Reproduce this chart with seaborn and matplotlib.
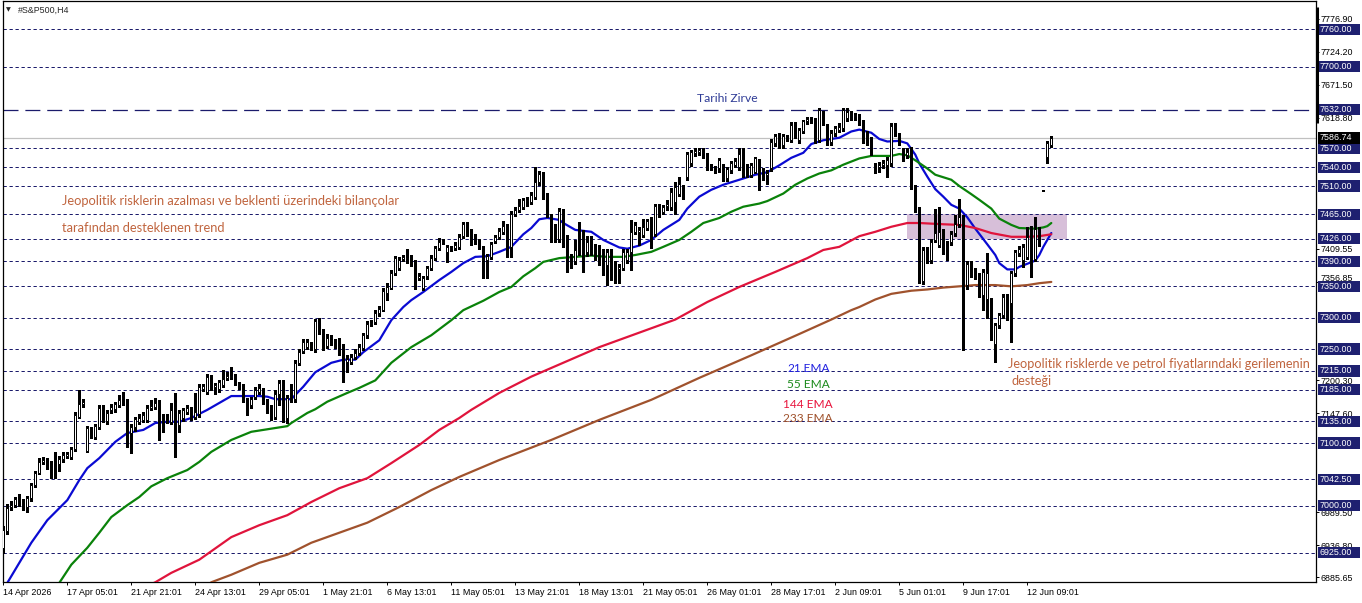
import matplotlib
matplotlib.use("Agg")
import numpy as np
import pandas as pd
import matplotlib.pyplot as plt
import matplotlib.transforms as mtransforms
from matplotlib.patches import Rectangle
import seaborn as sns

# ---------------------------------------------------------------------------
# Data (one entry per candle, 14 Apr 13:01 -> 15 Jun)
# ---------------------------------------------------------------------------

opens = [
    6932, 6960, 6998, 7001, 7010, 7006, 6998, 7012, 7033, 7053,
    7070, 7072, 7068, 7064, 7066, 7074, 7080, 7078, 7091, 7142,
    7163, 7088, 7122, 7110, 7126, 7156, 7135, 7152, 7154, 7161,
    7168, 7166, 7116, 7125, 7133, 7137, 7137, 7156, 7158, 7164,
    7142, 7141, 7134, 7153, 7129, 7140, 7150, 7155, 7142, 7146,
    7187, 7182, 7205, 7190, 7186, 7193, 7204, 7206, 7207, 7195,
    7191, 7169, 7161, 7173, 7181, 7186, 7166, 7156, 7142, 7178,
    7197, 7140, 7185, 7170, 7228, 7247, 7254, 7257, 7250, 7294,
    7278, 7255, 7268, 7262, 7264, 7254, 7230, 7230, 7238, 7243,
    7251, 7272, 7290, 7293, 7307, 7313, 7340, 7348, 7371, 7380,
    7393, 7393, 7395, 7388, 7364, 7347, 7366, 7379, 7395, 7411,
    7421, 7405, 7410, 7411, 7413, 7430, 7449, 7437, 7430, 7423,
    7411, 7392, 7397, 7423, 7428, 7437, 7446, 7413, 7466, 7472,
    7477, 7486, 7485, 7493, 7516, 7527, 7495, 7462, 7447, 7425,
    7470, 7427, 7397, 7390, 7437, 7435, 7405, 7425, 7413, 7397,
    7405, 7384, 7406, 7384, 7377, 7380, 7392, 7405, 7437, 7436,
    7432, 7443, 7456, 7434, 7479, 7469, 7478, 7477, 7484, 7498,
    7508, 7525, 7546, 7562, 7565, 7566, 7560, 7540, 7538, 7538,
    7541, 7522, 7535, 7543, 7541, 7561, 7541, 7528, 7533, 7549,
    7533, 7528, 7538, 7578, 7591, 7576, 7588, 7583, 7608, 7583,
    7598, 7613, 7617, 7615, 7583, 7626, 7605, 7580, 7594, 7600,
    7602, 7618, 7624, 7622, 7622, 7613, 7594, 7582, 7540, 7540,
    7544, 7543, 7546, 7605, 7590, 7565, 7560, 7567, 7509, 7472,
    7358, 7408, 7392, 7424, 7416, 7437, 7418, 7421, 7435, 7450,
    7461, 7352, 7386, 7376, 7368, 7336, 7330, 7328, 7258, 7288,
    7304, 7333, 7323, 7371, 7403, 7392, 7397, 7442, 7394, 7440,
    7503, 7557, 7576,
]
highs = [
    6968, 7003, 7008, 7014, 7018, 7010, 7016, 7036, 7056, 7076,
    7078, 7076, 7072, 7085, 7080, 7086, 7086, 7094, 7150, 7185,
    7170, 7128, 7126, 7130, 7160, 7160, 7152, 7162, 7166, 7176,
    7182, 7170, 7130, 7142, 7146, 7150, 7160, 7168, 7172, 7168,
    7146, 7146, 7164, 7180, 7152, 7156, 7160, 7158, 7180, 7194,
    7195, 7210, 7209, 7196, 7200, 7217, 7214, 7222, 7210, 7198,
    7194, 7172, 7174, 7190, 7194, 7188, 7170, 7160, 7185, 7200,
    7200, 7176, 7194, 7232, 7250, 7266, 7266, 7262, 7298, 7300,
    7282, 7274, 7272, 7266, 7268, 7258, 7240, 7242, 7250, 7258,
    7276, 7294, 7296, 7312, 7318, 7347, 7356, 7376, 7398, 7396,
    7400, 7409, 7400, 7392, 7371, 7367, 7383, 7400, 7415, 7427,
    7425, 7416, 7414, 7420, 7433, 7453, 7453, 7441, 7434, 7426,
    7414, 7402, 7421, 7432, 7443, 7455, 7450, 7470, 7476, 7489,
    7491, 7492, 7500, 7541, 7534, 7532, 7499, 7466, 7450, 7475,
    7474, 7432, 7402, 7424, 7453, 7440, 7430, 7430, 7418, 7416,
    7410, 7410, 7410, 7390, 7385, 7410, 7410, 7456, 7452, 7445,
    7458, 7458, 7460, 7482, 7482, 7480, 7488, 7507, 7516, 7525,
    7512, 7565, 7568, 7570, 7570, 7570, 7562, 7545, 7542, 7555,
    7545, 7541, 7550, 7555, 7570, 7570, 7545, 7547, 7557, 7553,
    7538, 7535, 7585, 7593, 7595, 7593, 7592, 7612, 7612, 7603,
    7616, 7620, 7620, 7618, 7634, 7630, 7609, 7600, 7606, 7610,
    7634, 7634, 7630, 7626, 7625, 7616, 7598, 7588, 7546, 7548,
    7552, 7556, 7610, 7611, 7594, 7570, 7570, 7572, 7512, 7476,
    7412, 7412, 7425, 7474, 7477, 7441, 7422, 7438, 7464, 7490,
    7464, 7390, 7390, 7380, 7372, 7377, 7403, 7332, 7292, 7308,
    7337, 7338, 7375, 7408, 7414, 7418, 7445, 7446, 7461, 7444,
    7504, 7582, 7590,
]
lows = [
    6925, 6955, 6994, 6998, 7000, 6994, 6990, 7008, 7030, 7050,
    7066, 7058, 7044, 7045, 7055, 7070, 7076, 7075, 7088, 7140,
    7158, 7085, 7108, 7106, 7122, 7134, 7131, 7148, 7150, 7158,
    7160, 7094, 7084, 7120, 7130, 7134, 7134, 7152, 7155, 7105,
    7118, 7132, 7130, 7078, 7118, 7136, 7146, 7137, 7138, 7142,
    7183, 7178, 7185, 7178, 7182, 7190, 7200, 7202, 7192, 7186,
    7166, 7145, 7156, 7170, 7178, 7162, 7148, 7137, 7138, 7160,
    7134, 7132, 7165, 7166, 7224, 7244, 7250, 7248, 7246, 7274,
    7248, 7252, 7256, 7252, 7240, 7198, 7214, 7226, 7234, 7240,
    7248, 7268, 7286, 7290, 7303, 7310, 7328, 7345, 7368, 7376,
    7390, 7388, 7383, 7345, 7360, 7344, 7362, 7376, 7392, 7408,
    7417, 7389, 7406, 7408, 7410, 7427, 7430, 7416, 7417, 7409,
    7363, 7363, 7394, 7419, 7425, 7434, 7397, 7397, 7462, 7468,
    7474, 7478, 7482, 7490, 7512, 7490, 7460, 7420, 7421, 7420,
    7412, 7373, 7380, 7385, 7400, 7373, 7398, 7400, 7392, 7384,
    7368, 7352, 7360, 7355, 7355, 7376, 7388, 7376, 7433, 7416,
    7428, 7440, 7411, 7430, 7460, 7465, 7472, 7472, 7466, 7494,
    7489, 7520, 7542, 7558, 7560, 7555, 7535, 7535, 7530, 7533,
    7518, 7518, 7530, 7540, 7536, 7524, 7525, 7524, 7530, 7503,
    7520, 7514, 7534, 7574, 7571, 7570, 7582, 7580, 7587, 7578,
    7594, 7609, 7610, 7578, 7580, 7608, 7575, 7575, 7590, 7596,
    7598, 7614, 7616, 7615, 7608, 7578, 7576, 7560, 7530, 7533,
    7538, 7525, 7542, 7590, 7575, 7550, 7555, 7505, 7468, 7355,
    7354, 7387, 7388, 7420, 7412, 7402, 7392, 7416, 7430, 7445,
    7248, 7345, 7365, 7362, 7333, 7312, 7300, 7265, 7230, 7284,
    7300, 7296, 7262, 7367, 7399, 7381, 7393, 7365, 7390, 7415,
    7502, 7546, 7572,
]
closes = [
    6962, 6997, 7002, 7010, 7004, 6998, 7012, 7033, 7052, 7070,
    7073, 7062, 7052, 7050, 7074, 7081, 7082, 7091, 7145, 7163,
    7165, 7124, 7113, 7127, 7156, 7142, 7148, 7158, 7162, 7169,
    7166, 7116, 7125, 7138, 7140, 7145, 7156, 7159, 7164, 7141,
    7139, 7138, 7153, 7113, 7148, 7153, 7156, 7141, 7150, 7190,
    7191, 7206, 7190, 7192, 7197, 7202, 7207, 7206, 7195, 7191,
    7169, 7161, 7170, 7185, 7188, 7166, 7156, 7141, 7178, 7196,
    7140, 7172, 7170, 7228, 7246, 7262, 7262, 7252, 7294, 7278,
    7252, 7268, 7262, 7258, 7254, 7233, 7234, 7238, 7244, 7254,
    7272, 7290, 7291, 7308, 7314, 7343, 7349, 7372, 7395, 7392,
    7396, 7395, 7387, 7364, 7367, 7363, 7379, 7395, 7411, 7421,
    7422, 7412, 7411, 7416, 7429, 7449, 7434, 7420, 7421, 7411,
    7392, 7398, 7417, 7428, 7439, 7446, 7413, 7466, 7472, 7478,
    7487, 7488, 7496, 7516, 7529, 7493, 7464, 7432, 7432, 7470,
    7416, 7384, 7384, 7408, 7405, 7406, 7421, 7410, 7397, 7388,
    7384, 7405, 7373, 7373, 7381, 7405, 7405, 7437, 7448, 7440,
    7445, 7454, 7434, 7478, 7464, 7477, 7482, 7500, 7509, 7514,
    7493, 7561, 7564, 7566, 7567, 7564, 7541, 7538, 7536, 7551,
    7522, 7537, 7546, 7550, 7561, 7528, 7528, 7543, 7555, 7528,
    7528, 7531, 7581, 7589, 7575, 7589, 7586, 7608, 7591, 7599,
    7613, 7617, 7615, 7583, 7631, 7613, 7578, 7594, 7602, 7604,
    7631, 7628, 7622, 7622, 7613, 7585, 7580, 7565, 7538, 7543,
    7546, 7551, 7605, 7594, 7578, 7560, 7565, 7509, 7472, 7365,
    7408, 7395, 7421, 7435, 7437, 7413, 7415, 7434, 7450, 7461,
    7352, 7386, 7373, 7368, 7336, 7373, 7372, 7270, 7288, 7304,
    7333, 7318, 7371, 7404, 7410, 7413, 7429, 7394, 7442, 7419,
    7503, 7578, 7587,
]

# EMA curves, read at the candle index where they were measured
ema21_idx = [0, 1, 7, 11, 16, 19, 21, 24, 28, 31, 35, 38, 41, 44, 47, 51, 54, 57, 60, 64,
             66, 68, 72, 75, 78, 82, 85, 88, 90, 94, 97, 100, 102, 105, 109, 112, 115, 118,
             121, 124, 127, 130, 132, 134, 136, 139, 140, 143, 147, 150, 154, 156, 159, 162,
             165, 169, 171, 174, 177, 180, 184, 188, 191, 194, 197, 200, 202, 205, 209, 212,
             214, 217, 219, 221, 224, 226, 228, 229, 231, 233, 235, 237, 239, 241, 243, 246,
             248, 249, 251, 253, 254, 256, 258, 259, 260, 262]
ema21_val = [6868, 6877, 6941, 6977, 7009, 7041, 7060, 7076, 7102, 7116, 7121, 7132, 7134,
             7134, 7140, 7153, 7164, 7175, 7175, 7175, 7174, 7170, 7170, 7190, 7213, 7228,
             7233, 7233, 7245, 7264, 7296, 7317, 7328, 7341, 7360, 7373, 7387, 7397, 7398,
             7405, 7413, 7433, 7443, 7457, 7459, 7456, 7451, 7440, 7437, 7424, 7412, 7410,
             7415, 7424, 7440, 7456, 7474, 7493, 7504, 7512, 7520, 7528, 7532, 7543, 7555,
             7563, 7577, 7583, 7587, 7597, 7600, 7595, 7585, 7581, 7582, 7578, 7560, 7546,
             7525, 7505, 7493, 7480, 7474, 7460, 7442, 7417, 7400, 7387, 7377, 7377, 7381,
             7386, 7391, 7400, 7413, 7435]

ema55_idx = [12, 14, 17, 21, 24, 27, 31, 34, 37, 41, 46, 49, 52, 57, 62, 66, 71, 72, 76, 78,
             81, 86, 89, 93, 97, 102, 107, 112, 115, 120, 124, 127, 130, 133, 135, 139, 143,
             147, 151, 155, 158, 162, 165, 169, 172, 175, 179, 182, 185, 189, 191, 195, 198,
             201, 204, 207, 210, 214, 217, 222, 224, 226, 228, 231, 233, 237, 239, 242, 244,
             247, 249, 252, 254, 258, 260, 261, 262]
ema55_val = [6862, 6877, 6906, 6933, 6957, 6982, 7001, 7014, 7031, 7044, 7057, 7070, 7086,
             7105, 7118, 7122, 7127, 7132, 7148, 7154, 7166, 7180, 7188, 7200, 7228, 7253,
             7272, 7296, 7312, 7327, 7341, 7349, 7366, 7379, 7389, 7395, 7397, 7399, 7397,
             7397, 7400, 7405, 7413, 7424, 7437, 7451, 7459, 7469, 7477, 7482, 7486, 7498,
             7512, 7522, 7530, 7535, 7544, 7554, 7558, 7558, 7561, 7559, 7551, 7538, 7528,
             7520, 7510, 7497, 7488, 7474, 7458, 7448, 7443, 7442, 7444, 7446, 7451]

ema144_idx = [36, 38, 42, 49, 57, 64, 71, 77, 84, 91, 97, 104, 109, 114, 117, 124, 132, 149,
              168, 176, 184, 193, 201, 205, 209, 214, 218, 222, 226, 229, 235, 239, 243, 247,
              252, 256, 259, 262]
ema144_val = [6872, 6878, 6893, 6914, 6950, 6969, 6985, 7006, 7028, 7044, 7068, 7097, 7121,
              7140, 7153, 7180, 7206, 7253, 7297, 7325, 7349, 7373, 7395, 7408, 7413, 7430,
              7437, 7445, 7451, 7451, 7449, 7448, 7443, 7435, 7429, 7429, 7430, 7433]

ema233_idx = [51, 52, 57, 64, 71, 77, 84, 91, 99, 107, 114, 124, 137, 149, 162, 174, 187, 199,
              207, 212, 214, 218, 222, 227, 231, 235, 239, 243, 248, 252, 256, 259, 262]
ema233_val = [6872, 6878, 6890, 6909, 6922, 6941, 6957, 6973, 6998, 7025, 7046, 7073, 7105,
              7137, 7169, 7204, 7240, 7274, 7297, 7312, 7317, 7329, 7338, 7343, 7345, 7348,
              7350, 7352, 7352, 7350, 7352, 7355, 7357]

# Horizontal levels drawn on the chart
levels = [7760, 7700, 7570, 7540, 7510, 7465, 7426, 7390, 7350, 7300, 7250, 7215, 7185,
          7135, 7100, 7042.5, 7000, 6925]
ath_level = 7632
last_price = 7586.74
zone_lo, zone_hi = 7425, 7466
zone_start, zone_end = 225.9, 265.9

# price-scale labels that are not covered by a level box
scale_ticks = [7776.90, 7724.20, 7671.50, 7618.80, 7409.55, 7356.85,
               7200.30, 7147.60, 6989.50, 6936.80, 6885.65]
time_idx = [0, 16, 32, 48, 64, 80, 96, 112, 128, 144, 160, 176, 192, 208, 224, 240, 256]
time_labels = ["14 Apr 2026", "17 Apr 05:01", "21 Apr 21:01", "24 Apr 13:01", "29 Apr 05:01",
               "1 May 21:01", "6 May 13:01", "11 May 05:01", "13 May 21:01", "18 May 13:01",
               "21 May 05:01", "26 May 01:01", "28 May 17:01", "2 Jun 09:01", "5 Jun 01:01",
               "9 Jun 17:01", "12 Jun 09:01"]

# ---------------------------------------------------------------------------
# Layout helpers (pixel geometry of the MT4 window)
# ---------------------------------------------------------------------------

W, H = 1362, 603
X0, X1 = 2.5, 1315.5
Y0, Y1 = 0.5, 582.0
P_TOP, P_PER_PX = 7806.7, 1.595

NAVY = "#1b1b6b"
NAVY_BOX = "#1e2070"
TXT_BROWN = "#c0653f"


def px_i(x):
    return (x - 3.3) / 4.0


def px_p(y):
    return P_TOP - P_PER_PX * y


def ax_frac(x):
    return (x - X0) / (X1 - X0)


sns.set_style("white")
plt.rcParams["font.family"] = ["Liberation Sans", "DejaVu Sans"]

fig = plt.figure(figsize=(W / 100, H / 100), dpi=100)
ax = fig.add_axes([X0 / W, 1 - Y1 / H, (X1 - X0) / W, (Y1 - Y0) / H])
ax.set_xlim(px_i(X0), px_i(X1))
ax.set_ylim(px_p(Y1), px_p(Y0))

for side in ("left", "right", "top", "bottom"):
    ax.spines[side].set_color("black")
    ax.spines[side].set_linewidth(0.9)

# ---------------------------------------------------------------------------
# Levels, zone, candles, EMAs
# ---------------------------------------------------------------------------

for lv in levels:
    ax.axhline(lv, color=NAVY, lw=0.72, ls=(0, (3.3, 2.7)), zorder=1)
ax.axhline(ath_level, color=NAVY, lw=0.9, ls=(0, (12, 5.5)), zorder=1)
ax.axhline(last_price, color="#c0c0c0", lw=0.9, zorder=1)

ax.add_patch(Rectangle((zone_start, zone_lo), zone_end - zone_start, zone_hi - zone_lo,
                       facecolor="#d7bfd9", edgecolor="none", zorder=0.5))

df = pd.DataFrame({"o": opens, "h": highs, "l": lows, "c": closes})
df["i"] = np.arange(len(df))
up = df["c"] >= df["o"]
body_lo = df[["o", "c"]].min(axis=1)
body_h = (df["c"] - df["o"]).abs().clip(lower=1.3)

ax.vlines(df["i"], df["l"], df["h"], color="black", lw=0.75, zorder=4, antialiased=False)
ax.bar(df["i"], body_h, bottom=body_lo, width=0.5,
       color=np.where(up, "white", "black"), edgecolor="black", linewidth=0.72, zorder=5)

ema_styles = [
    (ema21_idx, ema21_val, "#0a0ad2"),
    (ema55_idx, ema55_val, "#0a820a"),
    (ema144_idx, ema144_val, "#e0143c"),
    (ema233_idx, ema233_val, "#a0522d"),
]
for idx, vals, col in ema_styles:
    sns.lineplot(x=idx, y=vals, ax=ax, color=col, lw=1.6, zorder=3)

# ---------------------------------------------------------------------------
# Axes labels
# ---------------------------------------------------------------------------

ax.yaxis.tick_right()
ax.set_yticks(scale_ticks, labels=[f"{v:.2f}" for v in scale_ticks])
ax.tick_params(axis="y", length=2.2, width=0.7, pad=1.5, labelsize=6.4, colors="black",
               right=True, left=False)
# the 7356.85 scale label sits just above the 7350 box in MT4
lift = mtransforms.ScaledTranslation(0, 5 / 100, fig.dpi_scale_trans)
for lbl in ax.get_yticklabels():
    if lbl.get_text() == "7356.85":
        lbl.set_transform(lbl.get_transform() + lift)

ax.set_xticks(time_idx, labels=time_labels)
ax.tick_params(axis="x", length=2.2, width=0.7, pad=2.0, labelsize=6.4, colors="black",
               bottom=True)
for lbl in ax.get_xticklabels():
    lbl.set_ha("left")
ax.set_xlabel("")
ax.set_ylabel("")

ytr = ax.get_yaxis_transform()
bx0, bx1 = ax_frac(1317.5), ax_frac(1359.5)
for lv in levels + [ath_level]:
    ax.add_patch(Rectangle((bx0, lv - 5.6 * P_PER_PX), bx1 - bx0, 11.2 * P_PER_PX,
                           transform=ytr, facecolor=NAVY_BOX, edgecolor="none",
                           clip_on=False, zorder=6))
    ax.text(ax_frac(1320), lv, f"{lv:.2f}", transform=ytr, color="white", fontsize=6.4,
            va="center", ha="left", clip_on=False, zorder=7)
ax.add_patch(Rectangle((bx0, last_price - 5.6 * P_PER_PX), bx1 - bx0, 11.2 * P_PER_PX,
                       transform=ytr, facecolor="black", edgecolor="none",
                       clip_on=False, zorder=6))
ax.text(ax_frac(1320), last_price, f"{last_price:.2f}", transform=ytr, color="white",
        fontsize=6.4, va="center", ha="left", clip_on=False, zorder=7)

ax.plot([ax_frac(1316.5)] * 2, [px_p(6.7), px_p(123)], transform=ytr, color="black",
        lw=2.2, solid_capstyle="butt", clip_on=False, zorder=6)

# ---------------------------------------------------------------------------
# Text annotations
# ---------------------------------------------------------------------------

fig.text(8 / W, 1 - 10 / H, "\u25BC", fontsize=4.5, ha="center", va="center",
         family="DejaVu Sans")
fig.text(18 / W, 1 - 10 / H, "#S&P500,H4", fontsize=6.4, ha="left", va="center")

note = dict(family=["Lato", "DejaVu Sans"], va="center", ha="left", zorder=8)
ax.text(px_i(62), px_p(201), "Jeopolitik risklerin azalması ve beklenti üzerindeki bilançolar",
        color=TXT_BROWN, fontsize=9.3, **note)
ax.text(px_i(62), px_p(228), "tarafından desteklenen trend", color=TXT_BROWN, fontsize=9.3,
        **note)
ax.text(px_i(697), px_p(99), "Tarihi Zirve", color="#2e3b96", fontsize=8.7, **note)
ax.text(px_i(1008), px_p(364), "Jeopolitik risklerde ve petrol fiyatlarındaki gerilemenin",
        color=TXT_BROWN, fontsize=9.2, **note)
ax.text(px_i(1012), px_p(381), "desteği", color=TXT_BROWN, fontsize=9.2, **note)
ax.text(px_i(787), px_p(368), "21.EMA", color="#2222e0", fontsize=8.6, **note)
ax.text(px_i(787), px_p(385), "55 EMA", color="#1c8a1c", fontsize=8.6, **note)
ax.text(px_i(783), px_p(405), "144 EMA", color="#e8143c", fontsize=8.6, **note)
ax.text(px_i(783), px_p(418), "233 EMA", color="#a0522d", fontsize=8.6, **note)

fig.savefig("out.png", dpi=100)
